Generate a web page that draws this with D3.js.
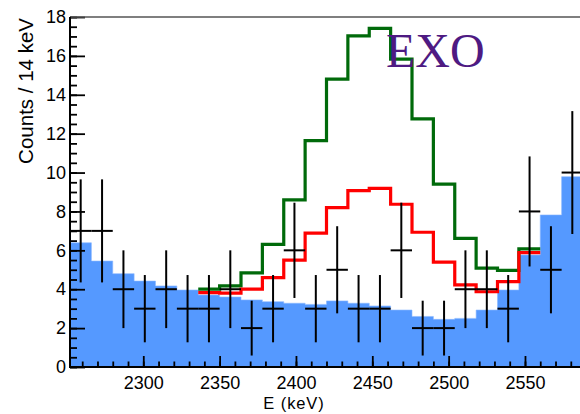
<!DOCTYPE html>
<html>
<head>
<meta charset="utf-8">
<script src="https://cdn.jsdelivr.net/npm/d3@7"></script>
<style>
  html, body { margin: 0; padding: 0; background: #fff; }
  svg { display: block; }
</style>
</head>
<body>
<svg id="chart" width="580" height="414"></svg>
<script>
// Lower edges of the 14 keV energy bins (keV)
const binLow = [2252, 2266, 2280, 2294, 2308, 2322, 2336, 2350, 2364, 2378, 2392, 2406,
                2420, 2434, 2448, 2462, 2476, 2490, 2504, 2518, 2532, 2546, 2560, 2574];
const binWidth = 14;

// Observed counts per bin and their uncertainties
const dataCounts = [7, 7, 4, 3, 4, 3, 3, 4, 2, 3, 6, 3, 5, 3, 3, 6, 2, 2, 4, 4, 3, 8, 5, 10];
const dataErrors = [2.65, 2.65, 2, 1.73, 2, 1.73, 1.73, 2, 1.41, 1.73, 2.45, 1.73,
                    2.24, 1.73, 1.73, 2.45, 1.41, 1.41, 2, 2, 1.73, 2.83, 2.24, 3.16];

// Background expectation (filled histogram)
const background = [6.39, 5.45, 4.8, 4.42, 4.17, 3.96, 3.7, 3.6, 3.45, 3.36, 3.28, 3.22,
                    3.4, 3.28, 3.14, 2.93, 2.6, 2.45, 2.5, 2.93, 3.96, 5.76, 7.82, 9.79];

// Background + signal hypotheses, defined over bins 6..21
const signalFirstBin = 6;
const redModel   = [3.82, 3.8, 4.01, 4.6, 5.5, 6.88, 8.2, 9.07, 9.19, 8.37, 6.93, 5.39, 4.22, 3.87, 4.39, 5.88];
const greenModel = [4.0, 4.17, 4.84, 6.31, 8.59, 11.64, 14.81, 17.03, 17.42, 15.83, 12.76, 9.4, 6.62, 5.08, 4.97, 6.07];

const xMajorTicks = [2300, 2350, 2400, 2450, 2500, 2550];
const yMajorTicks = [0, 2, 4, 6, 8, 10, 12, 14, 16, 18];

const svg = d3.select("#chart");
const plotL = 70, plotR = 583, plotT = 17, plotB = 367;

const x = d3.scaleLinear().domain([2252, 2588]).range([plotL, plotR]);
const y = d3.scaleLinear().domain([0, 18]).range([plotB, plotT]);

const FONT = "'Liberation Sans', Arial, Helvetica, sans-serif";

// Step points for a histogram starting at a given bin
function stepPoints(values, firstBin) {
  const pts = values.map((v, i) => [binLow[firstBin + i], v]);
  const last = firstBin + values.length - 1;
  pts.push([binLow[last] + binWidth, values[values.length - 1]]);
  return pts;
}

// Background fill
const area = d3.area()
  .curve(d3.curveStepAfter)
  .x(d => x(d[0]))
  .y0(y(0))
  .y1(d => y(d[1]));

svg.append("path")
  .datum(stepPoints(background, 0))
  .attr("d", area)
  .attr("fill", "#5599ff")
  .attr("stroke", "#8cb9ff")
  .attr("stroke-width", 0.6);

// Model step lines
const stepLine = d3.line()
  .curve(d3.curveStepAfter)
  .x(d => x(d[0]))
  .y(d => y(d[1]));

svg.append("path")
  .datum(stepPoints(greenModel, signalFirstBin))
  .attr("d", stepLine)
  .attr("fill", "none")
  .attr("stroke", "#006a0a")
  .attr("stroke-width", 3.2);

svg.append("path")
  .datum(stepPoints(redModel, signalFirstBin))
  .attr("d", stepLine)
  .attr("fill", "none")
  .attr("stroke", "#ff0000")
  .attr("stroke-width", 3.2);

// Data points with error bars
const pts = svg.append("g").attr("stroke", "#000").attr("stroke-width", 2);
dataCounts.forEach((c, i) => {
  const xc = x(binLow[i] + binWidth / 2);
  pts.append("line")
    .attr("x1", x(binLow[i])).attr("x2", Math.min(x(binLow[i] + binWidth), 580))
    .attr("y1", y(c)).attr("y2", y(c));
  pts.append("line")
    .attr("x1", xc).attr("x2", xc)
    .attr("y1", y(c + dataErrors[i])).attr("y2", y(Math.max(0, c - dataErrors[i])));
});

// Axes
const yAxisMinor = d3.axisLeft(y).tickValues(d3.range(0, 18.01, 0.5)).tickSize(-7).tickFormat("");
const yAxisMajor = d3.axisLeft(y).tickValues(yMajorTicks).tickSize(-15).tickPadding(4).tickFormat(d3.format("d"));
const xAxisMinor = d3.axisBottom(x).tickValues(d3.range(2260, 2588, 10)).tickSize(-5.5).tickFormat("");
const xAxisMajor = d3.axisBottom(x).tickValues(xMajorTicks).tickSize(-11).tickPadding(9).tickFormat(d3.format("d"));

function styleAxis(g) {
  g.select(".domain").remove();
  g.selectAll(".tick line").attr("stroke", "#000").attr("stroke-width", 1.8);
  g.selectAll("text").attr("fill", "#000").style("font-family", FONT).style("font-size", "18px");
}

svg.append("g").attr("transform", `translate(${plotL},0)`).call(yAxisMinor).call(styleAxis);
svg.append("g").attr("transform", `translate(${plotL},0)`).call(yAxisMajor).call(styleAxis);
svg.append("g").attr("transform", `translate(0,${plotB})`).call(xAxisMinor).call(styleAxis);
svg.append("g").attr("transform", `translate(0,${plotB})`).call(xAxisMajor).call(styleAxis);

// Frame lines
svg.append("line").attr("x1", plotL).attr("x2", 580).attr("y1", plotT).attr("y2", plotT)
  .attr("stroke", "#555").attr("stroke-width", 1.6);
svg.append("line").attr("x1", plotL).attr("x2", 580).attr("y1", plotB).attr("y2", plotB)
  .attr("stroke", "#000").attr("stroke-width", 2);
svg.append("line").attr("x1", plotL).attr("x2", plotL).attr("y1", plotT).attr("y2", plotB + 1)
  .attr("stroke", "#000").attr("stroke-width", 2);

// Axis titles
svg.append("text")
  .attr("transform", `translate(33,${plotT + 1}) rotate(-90)`)
  .attr("text-anchor", "end")
  .style("font-family", FONT).style("font-size", "20.5px")
  .text("Counts / 14 keV");

svg.append("text")
  .attr("x", 294).attr("y", 408.5)
  .attr("text-anchor", "middle")
  .style("font-family", FONT).style("font-size", "16.5px")
  .style("letter-spacing", "0.9px")
  .text("E (keV)");

// Experiment label
svg.append("text")
  .attr("x", 386).attr("y", 67)
  .style("font-family", "'Liberation Serif', 'Times New Roman', serif")
  .style("font-size", "48px")
  .attr("fill", "#4e1a82")
  .text("EXO");
</script>
</body>
</html>
